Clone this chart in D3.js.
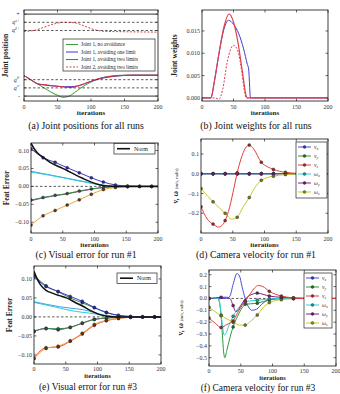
<!DOCTYPE html>
<html><head><meta charset="utf-8">
<script src="https://cdn.jsdelivr.net/npm/d3@7"></script>
<style>
body{margin:0;background:#fff;}
svg{display:block;font-family:"Liberation Serif","DejaVu Serif",serif;}
</style></head><body>
<svg id="fig" width="340" height="394"></svg>
<script>
// iterations where markers are drawn
const markIters = [0, 19, 38, 57, 76, 95, 114, 133, 152, 171, 190];
const iterTicks = [0, 50, 100, 150, 200];

// (a) joint positions, normalised between the hard limits
const aLimits = [0, 0.1, 0.2, 0.8, 0.9, 1];
const aLimitLabels = ["-", "s-", "\u2113-", "\u2113+", "s+", "+"];
const aNoAvoid = [[0,0.25],[10,0.2],[20,0.15],[30,0.1],[40,0.05],[50,0.01],[58,-0.015],[66,-0.005],[75,0.04],[85,0.1],[95,0.15],[105,0.19],[115,0.22],[130,0.245],[150,0.255],[200,0.255]];
const aOneLimit = [[0,0.25],[10,0.2],[20,0.15],[30,0.135],[40,0.125],[50,0.12],[60,0.115],[70,0.115],[80,0.125],[90,0.15],[100,0.18],[110,0.205],[125,0.23],[140,0.245],[160,0.255],[200,0.255]];
const aTwoLimits = [[0,0.25],[10,0.2],[20,0.15],[30,0.14],[40,0.13],[50,0.12],[60,0.11],[70,0.105],[80,0.12],[90,0.15],[100,0.18],[110,0.21],[125,0.235],[140,0.248],[160,0.255],[200,0.255]];
const aJoint2 = [[0,0.79],[15,0.8],[30,0.84],[45,0.88],[60,0.9],[75,0.895],[90,0.855],[105,0.81],[120,0.79],[150,0.785],[200,0.78]];

// (b) joint weights
const bTicks = [0, 0.005, 0.010, 0.015];
const bOneLimit = [[0,0],[14,0],[20,0.004],[27,0.01],[35,0.0155],[42,0.0174],[50,0.0165],[58,0.0145],[66,0.011],[72,0.0075],[74,0.0065],[77,0],[200,0]];
const bTwoLimits = [[0,0],[14,0],[20,0.004],[27,0.01],[35,0.016],[43,0.0188],[50,0.017],[57,0.0125],[64,0.006],[70,0.0005],[72,0],[200,0]];
const bJoint2 = [[0,0],[20,0],[27,-0.0003],[33,0.002],[40,0.008],[50,0.0118],[57,0.0105],[63,0.006],[68,0.001],[70,0],[200,0]];

// (c) visual error, run #1
const errTicks = [-0.10, -0.05, 0, 0.05, 0.10];
const c1 = [[0,0.105],[19,0.08],[38,0.067],[57,0.052],[76,0.038],[95,0.024],[114,0.012],[133,0.004],[152,0.001],[171,0],[190,0],[200,0]];
const c2 = [[0,0.04],[30,0.031],[56,0.022],[82,0.013],[109,0.004],[130,0],[200,0]];
const c3 = [[0,0.042],[30,0.032],[56,0.023],[82,0.014],[109,0.005],[130,0.001],[200,0]];
const c4 = [[0,-0.038],[19,-0.031],[38,-0.025],[57,-0.02],[76,-0.013],[95,-0.007],[114,-0.003],[133,-0.001],[152,0],[171,0],[190,0],[200,0]];
const c5 = [[0,-0.04],[19,-0.032],[38,-0.026],[57,-0.021],[76,-0.014],[95,-0.008],[114,-0.003],[133,-0.001],[152,0],[200,0]];
const c6 = [[0,-0.108],[19,-0.082],[38,-0.067],[57,-0.052],[76,-0.0375],[95,-0.022],[114,-0.009],[133,-0.003],[152,-0.001],[171,0],[190,0],[200,0]];
const cNorm = [[0,0.121],[5,0.105],[10,0.094],[20,0.08],[30,0.067],[45,0.054],[56,0.045],[70,0.032],[82,0.022],[95,0.012],[109,0.004],[120,0.001],[135,0],[200,0]];

// (d) camera velocity, run #1
const dTicks = [-0.2, -0.1, 0, 0.1];
const dZero = [[0,0],[19,0],[38,0],[57,0],[76,0],[95,0],[114,0],[133,0],[152,0],[171,0],[190,0],[200,0]];
const dVz = [[0,-0.167],[10,-0.23],[19,-0.255],[28,-0.27],[38,-0.237],[45,-0.17],[52,-0.07],[57,0.005],[63,0.075],[70,0.13],[76,0.145],[83,0.125],[95,0.058],[105,0.035],[114,0.022],[133,0.007],[152,0.002],[171,0],[190,0],[200,0]];
const dWz = [[0,-0.075],[19,-0.142],[38,-0.2],[48,-0.23],[57,-0.22],[66,-0.17],[76,-0.12],[85,-0.07],[95,-0.033],[114,-0.012],[133,-0.004],[152,-0.001],[171,0],[190,0],[200,0]];

// (e) visual error, run #3
const e1 = [[0,0.106],[19,0.08],[38,0.067],[57,0.054],[76,0.041],[95,0.025],[114,0.012],[133,0.004],[152,0.001],[171,0],[190,0],[200,0]];
const e2 = [[0,0.11],[19,0.082],[38,0.066],[57,0.05],[76,0.037],[95,0.024],[114,0.011],[133,0.004],[152,0.001],[171,0],[190,0],[200,0]];
const e3 = [[0,0.038],[20,0.031],[40,0.0235],[57,0.017],[77,0.012],[96,0.008],[112,0.003],[130,0.001],[200,0]];
const e4 = [[0,0.04],[20,0.033],[40,0.027],[57,0.023],[77,0.019],[96,0.011],[112,0.004],[130,0.001],[200,0]];
const e5 = [[0,-0.037],[19,-0.031],[38,-0.031],[57,-0.028],[76,-0.016],[95,-0.007],[114,-0.003],[133,-0.001],[152,0],[171,0],[190,0],[200,0]];
const e6 = [[0,-0.039],[19,-0.03],[38,-0.034],[57,-0.027],[76,-0.017],[95,-0.006],[114,-0.003],[133,-0.001],[152,0],[200,0]];
const e7 = [[0,-0.11],[19,-0.083],[38,-0.077],[57,-0.063],[76,-0.043],[95,-0.02],[114,-0.009],[133,-0.004],[152,-0.001],[171,0],[190,0],[200,0]];
const e8 = [[0,-0.108],[19,-0.081],[38,-0.079],[57,-0.064],[76,-0.045],[95,-0.022],[114,-0.01],[133,-0.004],[152,-0.001],[200,0]];
const eNorm = [[0,0.12],[5,0.1],[10,0.085],[19,0.07],[30,0.062],[40,0.056],[51,0.05],[65,0.038],[77,0.028],[90,0.016],[104,0.006],[115,0.002],[130,0],[200,0]];

// (f) camera velocity, run #3
const fTicks = [-0.5, -0.4, -0.3, -0.2, -0.1, 0, 0.1, 0.2];
const fVx = [[0,0],[28,0],[33,0.02],[38,0.12],[44,0.21],[48,0.19],[52,0.1],[57,0],[62,-0.07],[68,-0.1],[75,-0.09],[85,-0.04],[95,-0.01],[110,0],[200,0]];
const fVy = [[0,0],[14,0],[17,-0.05],[19,-0.14],[21,-0.3],[23,-0.45],[25,-0.5],[28,-0.44],[33,-0.33],[38,-0.24],[45,-0.15],[52,-0.08],[57,-0.05],[66,-0.045],[76,-0.04],[95,-0.012],[114,-0.003],[133,0],[152,0],[171,0],[190,0],[200,0]];
const fVz = [[0,-0.165],[10,-0.21],[19,-0.245],[28,-0.22],[38,-0.19],[45,-0.12],[52,-0.06],[57,-0.02],[65,0.04],[72,0.09],[78,0.11],[85,0.1],[95,0.06],[105,0.035],[114,0.02],[133,0.005],[152,0.001],[171,0],[190,0],[200,0]];
const fWx = [[0,0],[15,0],[18,-0.08],[21,-0.22],[24,-0.31],[27,-0.29],[32,-0.22],[38,-0.15],[45,-0.09],[52,-0.05],[57,-0.03],[66,-0.02],[76,-0.015],[95,-0.005],[114,0],[133,0],[152,0],[171,0],[190,0],[200,0]];
const fWy = [[0,0],[10,0.005],[19,0.01],[28,0.01],[33,0],[38,-0.06],[42,-0.11],[46,-0.1],[50,-0.06],[55,-0.02],[60,0.01],[68,0.035],[76,0.045],[85,0.035],[95,0.02],[114,0.01],[133,0.003],[152,0],[171,0],[190,0],[200,0]];
const fWz = [[0,-0.075],[19,-0.145],[38,-0.2],[48,-0.225],[57,-0.225],[66,-0.19],[76,-0.14],[85,-0.08],[95,-0.035],[105,-0.018],[114,-0.01],[133,-0.003],[152,0],[171,0],[190,0],[200,0]];

const velNames = [["v","x"],["v","y"],["v","z"],["\u03c9","x"],["\u03c9","y"],["\u03c9","z"]];
const velColors = ["#4b4bdc", "#2e9a3e", "#e2403a", "#2fd0d0", "#8a1f8a", "#c8c82a"];

const svg = d3.select("#fig");
const fmt2 = d3.format(".2f"), fmt1 = d3.format(".1f"), fmt3 = d3.format(".3f");
const minus = s => s.replace("-", "\u2212");

function panel(o) {
  const g = svg.append("g");
  const x = d3.scaleLinear().domain([0, 200]).range([o.l, o.r]);
  const y = d3.scaleLinear().domain(o.yDomain).range([o.b, o.t]);
  const id = "clip" + o.key;
  const tl = o.tickGap || 7.5, il = o.iterGap || 13.5;
  svg.append("clipPath").attr("id", id).append("rect")
    .attr("x", o.l).attr("y", o.t).attr("width", o.r - o.l).attr("height", o.b - o.t);

  // ticks inward on all four sides
  iterTicks.forEach(t => {
    g.append("line").attr("x1", x(t)).attr("x2", x(t)).attr("y1", o.b).attr("y2", o.b - 2.5).attr("stroke", "#000").attr("stroke-width", 0.6);
    g.append("line").attr("x1", x(t)).attr("x2", x(t)).attr("y1", o.t).attr("y2", o.t + 2.5).attr("stroke", "#000").attr("stroke-width", 0.6);
    g.append("text").attr("x", x(t)).attr("y", o.b + tl).attr("text-anchor", "middle")
      .attr("font-size", 6).attr("fill", "#333").text(t);
  });
  o.yTicks.forEach((t, i) => {
    g.append("line").attr("x1", o.l).attr("x2", o.l + 2.5).attr("y1", y(t)).attr("y2", y(t)).attr("stroke", "#000").attr("stroke-width", 0.6);
    g.append("line").attr("x1", o.r).attr("x2", o.r - 2.5).attr("y1", y(t)).attr("y2", y(t)).attr("stroke", "#000").attr("stroke-width", 0.6);
    if (o.yLabel) o.yLabel(g, t, i, y);
    else g.append("text").attr("x", o.l - 2).attr("y", y(t) + 2).attr("text-anchor", "end")
      .attr("font-size", 6).attr("fill", "#333").text(minus(o.yFormat(t)));
  });

  if (o.dashedZero) {
    g.append("line").attr("x1", o.l).attr("x2", o.r).attr("y1", y(0)).attr("y2", y(0))
      .attr("stroke", "#333").attr("stroke-width", 0.8).attr("stroke-dasharray", "2.5,2");
  }

  const line = d3.line().x(d => x(d[0])).y(d => y(d[1])).curve(d3.curveMonotoneX);
  const plot = g.append("g").attr("clip-path", `url(#${id})`);
  o.series.forEach(s => {
    plot.append("path").attr("d", line(s.pts)).attr("fill", "none")
      .attr("stroke", s.color).attr("stroke-width", s.width || 1)
      .attr("stroke-dasharray", s.dash || null);
    if (s.mark) {
      plot.selectAll(null).data(s.pts.filter(p => markIters.includes(p[0]))).enter()
        .append("circle").attr("cx", d => x(d[0])).attr("cy", d => y(d[1])).attr("r", 1.5)
        .attr("fill", s.mark).attr("stroke", "#222").attr("stroke-width", 0.4);
    }
  });

  g.append("rect").attr("x", o.l).attr("y", o.t).attr("width", o.r - o.l).attr("height", o.b - o.t)
    .attr("fill", "none").attr("stroke", "#111").attr("stroke-width", 0.8);

  g.append("text").attr("x", (o.l + o.r) / 2).attr("y", o.b + il).attr("text-anchor", "middle")
    .attr("font-size", o.iterSize || 7).attr("font-weight", "bold").attr("fill", "#222").text("iterations");

  const yl = g.append("text").attr("transform", `translate(${o.ylx},${(o.t + o.b) / 2}) rotate(-90)`)
    .attr("text-anchor", "middle").attr("font-size", 7.5).attr("font-weight", "bold").attr("fill", "#222");
  if (o.ylabelFn) o.ylabelFn(yl); else yl.text(o.ylabel);

  g.append("text").attr("x", o.capx).attr("y", o.capy).attr("text-anchor", "middle")
    .attr("font-size", o.capSize || 9.8).attr("fill", "#111").text(o.caption);
  return {g, x, y};
}

// (a)
const pa = panel({
  key: "a", l: 24, r: 158, t: 10, b: 101, yDomain: [-0.06, 1.05], yTicks: aLimits,
  yLabel: (g, t, i, y) => {
    const tx = g.append("text").attr("x", 20).attr("y", y(t) + 2).attr("text-anchor", "end")
      .attr("font-size", 6).attr("font-style", "italic").attr("fill", "#333");
    if (i === 0 || i === 5) tx.text(aLimitLabels[i]);
    else { tx.text("q"); tx.append("tspan").attr("dy", -2.5).attr("font-size", 4.5).text(aLimitLabels[i]); }
  },
  ylx: 8, ylabel: "Joint position", capx: 86, capy: 129, caption: "(a) Joint positions for all runs",
  series: [
    {pts: aNoAvoid, color: "#3a9a3a"},
    {pts: aOneLimit, color: "#3b3bd6"},
    {pts: aTwoLimits, color: "#dd2f3c"},
    {pts: aJoint2, color: "#e0404a", dash: "2,1.5"}
  ]
});
// limit lines in (a)
aLimits.forEach((t, i) => {
  pa.g.append("line").attr("x1", 24).attr("x2", 158).attr("y1", pa.y(t)).attr("y2", pa.y(t))
    .attr("stroke", "#333").attr("stroke-width", i === 0 || i === 5 ? 1 : 0.8)
    .attr("stroke-dasharray", i === 0 || i === 5 ? null : "2.5,2");
});
{
  const lg = pa.g.append("g");
  lg.append("rect").attr("x", 63).attr("y", 39).attr("width", 92).attr("height", 32)
    .attr("fill", "#fff").attr("stroke", "#222").attr("stroke-width", 0.7);
  const items = [["Joint 1, no avoidance", "#3a9a3a", null], ["Joint 1, avoiding one limit", "#3b3bd6", null],
    ["Joint 1, avoiding two limits", "#dd2f3c", null], ["Joint 2, avoiding two limits", "#e0404a", "2,1.5"]];
  items.forEach((it, i) => {
    const yy = 44.5 + i * 7.5;
    lg.append("line").attr("x1", 66).attr("x2", 78).attr("y1", yy).attr("y2", yy)
      .attr("stroke", it[1]).attr("stroke-width", 1).attr("stroke-dasharray", it[2]);
    lg.append("text").attr("x", 81).attr("y", yy + 1.8).attr("font-size", 5.2).attr("fill", "#222").text(it[0]);
  });
}

// (b)
panel({
  key: "b", l: 202, r: 328, t: 10, b: 101, yDomain: [-0.0007, 0.0197], yTicks: bTicks, yFormat: fmt3,
  ylx: 177, ylabel: "Joint weights", capx: 256, capy: 129, caption: "(b) Joint weights for all runs",
  series: [
    {pts: bOneLimit, color: "#3b3bd6"},
    {pts: bTwoLimits, color: "#e2404a", width: 1.2},
    {pts: bJoint2, color: "#e0404a", dash: "2,1.5"}
  ]
});

function normLegend(g, x0, y0, w) {
  g.append("rect").attr("x", x0).attr("y", y0).attr("width", w).attr("height", 10.5)
    .attr("fill", "#fff").attr("stroke", "#222").attr("stroke-width", 0.7);
  g.append("line").attr("x1", x0 + 3).attr("x2", x0 + 16).attr("y1", y0 + 5.2).attr("y2", y0 + 5.2)
    .attr("stroke", "#111").attr("stroke-width", 1.6);
  g.append("text").attr("x", x0 + 20).attr("y", y0 + 7.3).attr("font-size", 6).attr("fill", "#222").text("Norm");
}

// (c)
const pc = panel({
  key: "c", l: 31, r: 158, t: 143, b: 233, yDomain: [-0.13, 0.121], yTicks: errTicks, yFormat: fmt2,
  ylx: 9, ylabel: "Feat Error", capx: 86, capy: 258, caption: "(c) Visual error for run #1", dashedZero: true,
  series: [
    {pts: c3, color: "#3da0e8"},
    {pts: c2, color: "#30c8d8"},
    {pts: c5, color: "#9a3a9a"},
    {pts: c4, color: "#3a8a4a", mark: "#2a5a30"},
    {pts: c6, color: "#f0a43a", mark: "#5a3a18"},
    {pts: c1, color: "#3a3ad0", mark: "#2a2a8a"},
    {pts: cNorm, color: "#111", width: 1.5}
  ]
});
normLegend(pc.g, 114, 143.5, 41);

function velLegend(g, x0, y0, w, h, step) {
  g.append("rect").attr("x", x0).attr("y", y0).attr("width", w).attr("height", h)
    .attr("fill", "#fff").attr("stroke", "#222").attr("stroke-width", 0.7);
  velNames.forEach((n, i) => {
    const yy = y0 + 5 + i * step;
    g.append("line").attr("x1", x0 + 2).attr("x2", x0 + 15).attr("y1", yy).attr("y2", yy)
      .attr("stroke", velColors[i]).attr("stroke-width", 1);
    g.append("circle").attr("cx", x0 + 8.5).attr("cy", yy).attr("r", 1.4)
      .attr("fill", d3.color(velColors[i]).darker(1)).attr("stroke", "#222").attr("stroke-width", 0.4);
    const t = g.append("text").attr("x", x0 + 18).attr("y", yy + 1.8).attr("font-size", 5.5)
      .attr("font-style", "italic").attr("fill", "#333").text(n[0]);
    t.append("tspan").attr("dy", 1.2).attr("font-size", 4).text(n[1]);
  });
}
function velYLabel(t) {
  t.text("v, \u03c9 ");
  t.append("tspan").attr("font-size", 4.5).attr("font-weight", "normal").text("(m/s, rad/s)");
}

// (d)
const pd = panel({
  key: "d", l: 201, r: 328, t: 139, b: 233, yDomain: [-0.30, 0.176], yTicks: dTicks, yFormat: fmt1,
  ylx: 178, ylabelFn: velYLabel, capx: 256, capy: 258, caption: "(d) Camera velocity for run #1",
  series: [
    {pts: dZero, color: velColors[0], mark: d3.color(velColors[0]).darker(1)},
    {pts: dZero, color: velColors[1], mark: d3.color(velColors[1]).darker(1)},
    {pts: dZero, color: velColors[3], mark: d3.color(velColors[3]).darker(1)},
    {pts: dZero, color: velColors[4], mark: d3.color(velColors[4]).darker(0.5)},
    {pts: dWz, color: velColors[5], mark: d3.color(velColors[5]).darker(1.5)},
    {pts: dVz, color: velColors[2], mark: d3.color(velColors[2]).darker(1.2)}
  ]
});
velLegend(pd.g, 296, 142, 31, 56, 9);

// (e)
const pe = panel({
  key: "e", l: 34, r: 161, t: 266, b: 364, yDomain: [-0.124, 0.134], yTicks: errTicks, yFormat: fmt2,
  tickGap: 6.5, iterGap: 13.8, iterSize: 6.5, capSize: 9.5,
  ylx: 12, ylabel: "Feat Error", capx: 88, capy: 390, caption: "(e) Visual error for run #3", dashedZero: true,
  series: [
    {pts: e4, color: "#3da0e8"},
    {pts: e3, color: "#30c8d8"},
    {pts: e6, color: "#9a3a9a", mark: "#5a1a5a"},
    {pts: e5, color: "#3a8a4a", mark: "#2a5a30"},
    {pts: e8, color: "#e24a3a", mark: "#6a2018"},
    {pts: e7, color: "#f0a43a", mark: "#5a3a18"},
    {pts: e2, color: "#3a8a4a", mark: "#2a5a30"},
    {pts: e1, color: "#3a3ad0", mark: "#2a2a8a"},
    {pts: eNorm, color: "#111", width: 1.5}
  ]
});
normLegend(pe.g, 117, 273, 40);

// (f)
const pf = panel({
  key: "f", l: 209, r: 336, t: 270, b: 366, yDomain: [-0.57, 0.24], yTicks: fTicks, yFormat: fmt1,
  tickGap: 6.5, iterGap: 13.8, iterSize: 6.5, capSize: 9.5,
  ylx: 183, ylabelFn: velYLabel, capx: 258, capy: 390.5, caption: "(f) Camera velocity for run #3", dashedZero: true,
  series: [
    {pts: fVx, color: velColors[0]},
    {pts: fVy, color: velColors[1], mark: d3.color(velColors[1]).darker(1)},
    {pts: fWx, color: velColors[3], mark: d3.color(velColors[3]).darker(1)},
    {pts: fWz, color: velColors[5], mark: d3.color(velColors[5]).darker(1.5)},
    {pts: fWy, color: velColors[4], mark: d3.color(velColors[4]).darker(0.5)},
    {pts: fVz, color: velColors[2], mark: d3.color(velColors[2]).darker(1.2)}
  ]
});
velLegend(pf.g, 304, 273, 28, 55, 9);
</script>
</body></html>
